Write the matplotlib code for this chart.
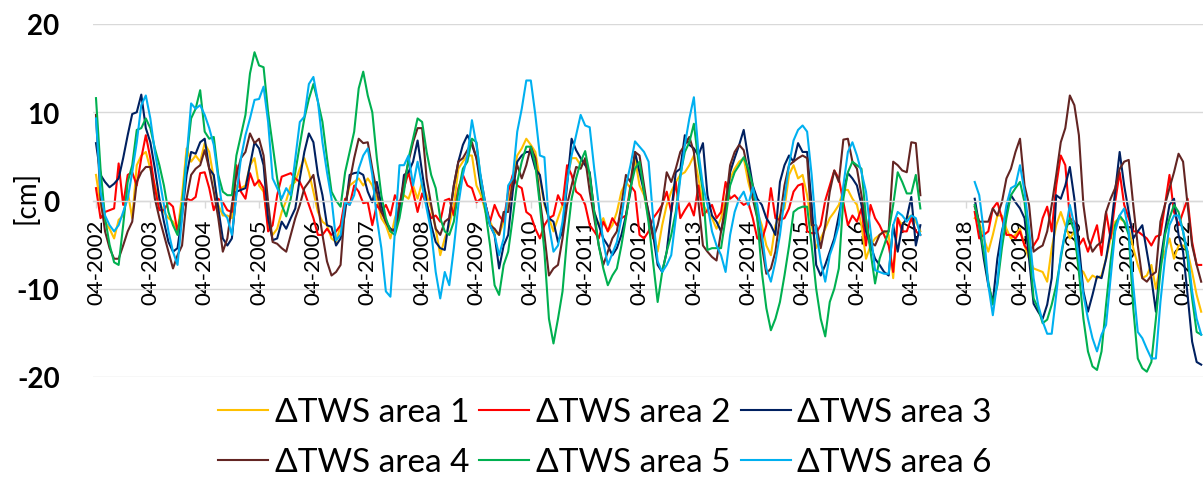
"""Monthly TWS anomalies for six areas, GRACE (04-2002..06-2017) and GRACE-FO (06-2018..)."""

import matplotlib

matplotlib.use("Agg")

import matplotlib.pyplot as plt
import numpy as np

plt.rcParams["font.family"] = ["Lato", "DejaVu Sans"]
plt.rcParams["axes.unicode_minus"] = False

# ---------------------------------------------------------------- data [cm]
# GRACE: 04-2002 .. 06-2017 (183 months), GRACE-FO: 06-2018 .. 10-2022 (51 months)
GAP_MONTHS = 11

area1_grace = [
    2.9, -0.5, -2.4, -3.2, -4.3, -2.2, -1.7, 1.0, -2.0, 4.0, 5.1, 5.5, 3.6, 1.7, -0.2, -1.3, -2.0, -2.4, -3.5, 0.6,
    5.9, 4.4, 5.1, 4.4, 6.5, 5.5, 2.5, -0.5, -1.7,
    -1.7, -2.0, 1.7, 1.4, 1.7, 4.0, 4.8, 1.7, 1.0, -2.8, -3.9, -3.2, -1.3, 0.0, 1.7, 2.1, 3.6, 4.8, 3.2, 1.0,
    -1.3, -2.4, -2.8, -4.3, -4.7, -2.8, -0.5, 1.7, 2.1, 2.5, 1.7,
    2.5, 1.7, 0.2, -2.0, -2.8, -4.3, -2.0, -0.5, 0.6, 0.2, 1.7, 0.2, 2.1, 0.6, -0.9, -3.2, -6.2, -4.3, -2.8, -0.5,
    3.6, 4.4, 5.1, 5.1, 1.7, 0.6, -1.3, -2.4, -3.5, -3.9, -2.4,
    -0.5, 2.5, 5.1, 5.9, 7.0, 6.3, 5.5, 2.5, -0.5, -2.0, -3.5, -2.0, -0.5, 2.5, 4.8, 4.8, 4.0, 4.4, 2.9, -1.3,
    -2.8, -2.0, -3.5, -2.8, -1.3, 1.0, 2.1, 1.4, 4.8, 1.7, 0.6,
    -2.0, -3.5, -5.8, -2.8, -0.5, 1.0, 2.1, 2.9, 3.2, 4.0, 5.1, 2.5, -0.5, -1.3, -2.0, -3.2, -2.0, 0.2, 2.5, 3.6,
    4.4, 4.8, 2.1, 0.2, -1.3, -2.8, -5.1, -6.2, -2.8, -1.7,
    -0.9, 2.9, 4.0, 2.5, 2.9, 0.6, -2.8, -5.4, -4.3, -3.2, -2.0, -1.3, -0.5, 1.2, 1.2, 0.2, -0.5, -2.8, -6.6, -5.1,
    -4.3, -3.9, -3.5, -3.9, -8.8, -2.0, -2.8, -2.0, -1.7, -2.4, -3.5,
]
area1_gfo = [
    -2.0, -2.4, -4.3, -5.8, -3.9, -1.7, -1.7, -3.2, -4.3, -3.9, -3.2, -5.1, -6.6, -7.7, -7.9, -8.1, -9.2, -5.4, -2.8,
    -1.3, -2.8, -4.3, -3.5, -7.7, -8.1, -9.2, -8.5, -8.8, -8.5, -6.6, -4.3, -2.4, -2.0, -2.4, -3.2, -5.4, -7.3, -8.8,
    -8.5, -7.3, -10.0, -7.3, -5.8, -4.3, -6.6, -5.1, -5.1, -5.8, -8.1, -10.7, -12.6,
]

area2_grace = [
    1.4, -2.0, -1.3, -1.1, -0.9, 4.2, -0.5, 2.9, 3.2, 1.7, 4.8, 7.4, 4.8, 1.4, -1.1, -1.1, -0.2, -0.7, -3.5, -0.9,
    0.2, 0.0, 0.4, 3.1, 3.2, 1.4, -1.1, 0.2, -0.2,
    -1.1, -1.3, 4.0, 1.0, 0.2, 3.1, 1.7, 2.3, 1.4, -3.5, -2.8, 0.6, 2.7, 2.9, 3.1, 2.5, 2.1, 1.0, -0.5, -2.0,
    -3.9, -3.9, -3.2, -3.9, -3.5, -2.8, 0.2, -0.5, 1.7, 1.0, -0.3,
    -0.2, -2.8, -0.5, -1.3, -0.5, -1.7, 0.6, -0.5, 1.4, 3.2, 1.0, -1.3, 0.8, -0.5, -2.0, -1.7, -2.4, 0.0, 0.2, -1.7,
    1.4, 2.9, 1.7, 1.4, -0.2, 0.2, -0.5, -2.4, -0.5, -1.7, -2.4,
    1.0, 2.9, 1.7, 1.4, -1.3, -1.7, -3.2, -4.3, -2.8, -2.0, -1.7, 0.6, -0.5, 4.0, 2.9, 1.0, 0.6, -0.5, -2.8, -3.5,
    -4.3, -2.4, -3.5, -2.0, -2.8, -2.0, -1.7, 1.7, 1.0, -3.9, -4.3,
    -3.5, -2.0, -1.3, -0.5, 1.0, -1.3, 2.1, -2.0, -1.1, -0.3, -1.7, 1.7, -1.7, -1.1, -0.5, -2.0, -1.3, 2.1, 0.2, 0.6,
    0.0, -0.5, -0.2, -2.0, -4.3, -4.5, -2.8, 1.4, -2.0, -2.2,
    -2.0, -0.9, 1.0, 1.7, 1.9, -3.5, -3.7, -3.7, -2.8, 0.0, 1.7, 3.4, 2.5, -0.2, -2.8, -1.7, -2.4, -0.9, -5.1, -0.5,
    -2.0, -2.8, -3.9, -5.1, -8.1, -2.0, -3.5, -3.5, -2.0, -3.5, -3.9,
]
area2_gfo = [
    -1.3, -4.3, -3.9, -3.5, -0.9, -0.2, -2.0, -3.9, -3.9, -4.3, -3.5, -5.1, -5.8, -5.1, -4.3, -2.0, -0.7, -3.5, 1.7,
    5.1, 4.0, -2.0, -2.4, -5.1, -4.3, -5.8, -4.3, -2.8, -6.2, -1.3, -4.3, -0.2, 3.2, -0.5, -2.0, -3.5, -3.5, -3.9,
    -4.3, -5.1, -4.1, -3.9, -0.5, 2.9, -1.3, -2.8, -1.3, 0.2, -4.7, -7.3, -7.3,
]

area3_grace = [
    6.5, 2.9, 2.1, 1.5, 1.9, 2.5, 4.8, 7.4, 9.8, 10.0, 12.0, 8.2, 6.6, 3.6, 0.2, -2.4, -4.7, -5.8, -5.4, -1.7,
    2.9, 5.5, 5.3, 6.6, 7.0, 3.6, 2.9, -0.9, -4.3,
    -5.1, -4.3, 1.0, 1.2, 1.4, 4.0, 6.6, 5.9, 4.0, -2.0, -4.5, -4.3, -2.4, -3.2, -2.0, -0.9, 2.5, 5.5, 7.6, 6.6,
    2.9, 0.6, -2.8, -3.0, -5.1, -4.3, -1.3, 2.9, 3.1, 3.2, 2.9,
    1.0, -0.2, 2.1, -0.5, -2.4, -3.2, -3.5, -1.3, 2.9, 3.2, 4.4, 6.8, 3.2, -0.2, -2.8, -4.7, -5.4, -5.6, -2.0, 1.7,
    4.4, 6.3, 7.4, 6.3, 4.8, 1.4, -0.5, -2.8, -3.9, -7.7, -5.1,
    -3.9, 1.0, 4.4, 5.1, 5.5, 5.5, 3.6, 2.9, -0.2, -2.0, -2.4, -4.7, -3.5, 1.7, 7.0, 5.7, 4.8, 4.0, 3.2, -1.3,
    -2.8, -4.3, -5.1, -6.2, -5.4, -3.9, -1.7, 1.0, 5.5, 3.2, 1.0,
    -1.3, -3.9, -7.3, -8.1, -5.8, -1.3, 3.2, 3.6, 7.4, 6.3, 5.9, 5.1, 6.5, 0.6, -1.7, -2.4, -3.5, -1.3, 3.2, 4.8,
    6.3, 8.0, 4.8, 1.7, 0.2, -0.5, -2.0, -2.8, -3.9, 2.1,
    4.0, 5.1, 4.4, 6.5, 5.5, 5.5, -0.5, -7.3, -8.5, -7.3, -5.8, -4.3, -1.7, 1.0, 3.1, 2.5, 1.7, -0.5, -3.5, -5.1,
    -6.6, -7.3, -8.1, -8.5, -2.8, -5.8, -2.8, -2.0, 0.4, -5.1, -2.8,
]
area3_gfo = [
    0.2, -2.8, -6.6, -9.6, -11.5, -6.6, -3.5, -1.3, 0.6, -0.2, -0.9, -2.0, -6.6, -11.7, -12.6, -13.4, -11.8, -8.8, 0.6,
    0.2, 1.7, 3.8, 0.2, -5.1, -10.3, -12.6, -10.7, -8.6, -8.8, -6.6, -3.5, 1.0, 5.5, 1.7, -1.3, -4.3, -3.5, -2.8,
    -5.8, -8.8, -12.6, -6.9, -3.5, -0.5, 0.2, -3.9, -5.8, -10.7, -16.0, -18.3, -18.6,
]

area4_grace = [
    9.7, 0.2, -3.5, -5.4, -6.6, -6.6, -5.1, -3.5, -2.4, 2.1, 3.2, 3.8, 3.8, 0.2, -2.0, -3.9, -5.8, -7.7, -6.2, -5.1,
    0.2, 2.9, 3.6, 4.0, 5.7, 3.6, 1.0, -2.0, -5.8,
    -4.3, -0.5, 2.9, 4.8, 5.5, 7.6, 6.5, 7.0, 5.1, -0.2, -4.7, -4.9, -5.4, -5.8, -3.9, -2.0, -0.5, 1.4, 2.1, 2.9,
    -0.5, -3.9, -6.9, -8.5, -8.1, -7.3, -0.5, 2.1, 4.8, 7.0, 6.5,
    6.6, 3.6, 1.0, -1.3, -2.4, -3.5, -3.2, -0.5, 2.1, 4.4, 6.6, 8.2, 8.2, 2.5, -0.5, -3.2, -3.9, -2.4, -2.0, 1.7,
    4.4, 4.8, 5.7, 6.6, 4.8, 2.5, -0.5, -2.8, -3.2, -3.9, -1.3,
    -1.3, 2.1, 4.0, 2.5, 4.0, 6.1, 4.8, 0.2, -3.9, -8.5, -7.7, -7.3, -4.3, -0.5, 1.7, 3.8, 3.6, 4.8, 1.0, -2.0,
    -5.1, -7.3, -5.8, -4.3, -3.5, -0.5, 2.9, 2.1, 5.5, 5.1, 1.7,
    -1.7, -4.3, -2.8, -0.5, 3.2, 2.1, 3.6, 5.5, 6.3, 7.2, 5.5, -0.2, -5.1, -5.8, -6.4, -6.8, -3.5, -0.5, 4.0, 5.5,
    6.3, 5.7, 3.2, 0.2, -2.0, -5.1, -8.3, -7.7, -5.8, -2.0,
    1.7, 4.0, 4.4, 4.8, 5.1, 4.8, -2.8, -2.8, -5.4, -2.8, 1.0, 3.4, 2.1, 6.9, 7.0, 4.4, 3.6, 0.6, -2.8, -4.7,
    -5.1, -3.9, -3.5, -3.5, 4.4, 4.0, 3.4, 3.2, 6.6, 6.5, 0.6,
]
area4_gfo = [
    -0.7, -2.4, -2.4, -2.4, -0.9, -1.7, -0.2, 2.5, 3.6, 5.5, 7.0, 1.7, -0.5, -5.8, -5.4, -5.1, -3.5, -0.5, 2.9,
    6.6, 8.2, 11.9, 10.8, 7.4, -0.5, -4.3, -5.8, -5.1, -4.7, -1.3, 0.2, 1.4, 3.6, 4.4, 4.6, -0.5, -5.1, -8.8,
    -9.2, -8.5, -8.1, -2.4, -0.5, 1.4, 3.2, 5.3, 4.4, -0.5, -5.1, -7.3, -9.2,
]

area5_grace = [
    11.6, 3.6, -2.0, -5.0, -7.0, -7.3, -2.8, 2.1, 4.0, 8.0, 8.2, 9.3, 8.2, 5.9, 4.0, 1.7, -1.3, -2.8, -3.9, -0.5,
    4.8, 9.3, 10.4, 12.5, 7.8, 7.0, 7.2, 2.9, 1.0,
    0.6, 0.6, 5.1, 7.4, 9.7, 14.4, 16.8, 15.3, 15.1, 10.0, 6.3, 2.5, -0.5, -1.8, 0.2, 3.2, 6.3, 9.3, 11.5, 13.2,
    11.2, 8.9, 4.8, 1.0, 0.0, -0.7, 3.2, 5.5, 7.8, 12.7, 14.6,
    11.9, 10.0, 4.8, 0.6, -2.0, -3.5, -3.9, -2.0, 1.0, 4.8, 7.0, 9.3, 8.9, 5.5, 2.9, 1.4, -2.0, -3.5, -3.9, -2.4,
    1.0, 3.6, 4.4, 7.0, 6.6, 2.1, -1.3, -5.1, -9.6, -10.7, -7.3,
    -5.8, -2.0, 2.1, 4.4, 6.1, 6.1, 4.0, -0.5, -5.8, -13.4, -16.2, -13.4, -10.3, -4.3, 0.2, 2.5, 4.4, 5.6, 2.9, -1.3,
    -5.1, -7.7, -9.6, -8.5, -7.7, -5.1, -2.0, 1.4, 3.6, 4.4, 1.0,
    -2.5, -7.0, -11.5, -8.1, -5.8, -3.9, -1.3, 2.9, 5.5, 6.6, 8.7, 4.4, 1.0, -5.6, -5.4, -5.4, -5.4, -2.0, 1.7, 3.2,
    4.0, 4.9, 3.6, 1.7, -2.0, -8.1, -12.2, -14.7, -13.4, -11.5,
    -8.5, -5.2, -1.3, -0.9, -0.7, -0.7, -5.1, -10.0, -13.4, -15.4, -11.5, -10.0, -7.7, 0.2, 3.2, 4.4, 4.0, 3.6, -2.0, -5.8,
    -9.4, -6.6, -5.1, -3.5, -0.5, 3.2, 2.1, 0.8, 0.8, 2.9, -0.9,
]
area5_gfo = [
    -0.5, -2.8, -5.8, -9.2, -11.8, -9.6, -5.4, -2.0, 0.6, 1.4, 2.1, -0.2, -5.1, -11.1, -12.2, -13.9, -13.5, -11.8, -9.6,
    -6.6, -3.5, -2.0, -3.5, -8.1, -13.4, -17.1, -18.8, -19.2, -17.1, -11.8, -6.9, -2.8, -1.7, -2.4, -3.9, -12.2, -17.9,
    -19.0, -19.4, -18.3, -13.4, -8.1, -3.9, -2.0, -0.5, -1.3, -3.5, -6.6, -11.1, -14.9, -15.2,
]

area6_grace = [
    9.3, 1.0, -1.7, -2.8, -3.5, -2.8, -1.3, 0.2, 3.2, 6.6, 10.8, 11.9, 9.3, 5.5, 2.5, -0.5, -3.5, -5.8, -7.3, -2.0,
    4.8, 11.0, 10.4, 10.8, 9.7, 8.2, 6.3, 2.5, -1.3,
    -2.0, -3.9, 0.6, 4.8, 7.4, 9.3, 11.4, 11.5, 12.9, 8.9, 2.5, 1.4, 0.2, 1.4, 0.6, 4.8, 8.9, 9.5, 13.2, 14.0,
    11.2, 6.6, 3.2, 0.2, -4.5, -3.9, -0.2, -0.5, 0.6, 3.6, 5.1,
    5.9, 2.9, -2.0, -5.4, -10.3, -10.9, -3.5, 4.0, 4.0, 5.1, 1.7, 4.4, 1.7, -0.9, -3.5, -8.1, -11.1, -8.1, -9.6, -5.4,
    -0.5, 2.9, 5.1, 9.1, 6.3, 2.5, -0.5, -2.8, -3.9, -6.2, -4.3,
    1.7, 2.5, 7.8, 10.4, 13.6, 13.6, 9.7, 5.1, 4.9, -2.8, -5.8, -5.1, -2.4, 2.1, 5.1, 7.4, 9.7, 8.5, 8.3, 3.6,
    -0.5, -4.7, -7.3, -6.0, -4.7, -2.0, 1.7, 4.0, 6.7, 6.1, 5.5,
    4.4, -2.0, -6.9, -8.1, -7.3, -6.2, -2.0, 2.5, 6.3, 9.3, 11.7, 5.5, 1.7, -0.5, -3.5, -5.1, -6.2, -8.1, -3.9, -1.3,
    0.2, 1.0, -0.5, 1.5, -0.5, -3.9, -7.7, -9.2, -6.9, -3.9,
    0.2, 4.0, 6.8, 8.0, 8.5, 7.8, 2.9, -3.5, -6.9, -9.2, -6.2, -4.7, -2.8, 1.7, 5.5, 6.6, 5.1, 3.2, 1.0, -3.5,
    -7.9, -8.1, -8.3, -8.3, -2.8, -1.3, -1.7, -2.4, -1.7, -2.0, -3.9,
]
area6_gfo = [
    2.1, 0.6, -3.5, -9.6, -13.0, -9.2, -3.9, -0.5, 1.4, 1.7, 4.0, 1.0, -3.2, -8.8, -11.8, -13.7, -15.1, -15.1, -10.7,
    -6.2, -3.5, -0.5, -2.8, -6.6, -10.7, -13.4, -15.6, -17.1, -15.2, -14.1, -8.8, -3.5, -1.7, -0.9, -3.5, -9.6, -14.9,
    -15.6, -16.8, -17.9, -17.9, -11.5, -6.6, -2.8, -1.7, -1.7, -3.5, -5.8, -10.3, -13.4, -15.2,
]

labels = [f"\u0394TWS area {i}" for i in range(1, 7)]
colors = ["#FFC000", "#FF0000", "#002060", "#632523", "#00B050", "#00B0F0"]
year_ticks = list(range(2002, 2023))

series = [
    (area1_grace, area1_gfo),
    (area2_grace, area2_gfo),
    (area3_grace, area3_gfo),
    (area4_grace, area4_gfo),
    (area5_grace, area5_gfo),
    (area6_grace, area6_gfo),
]

# ---------------------------------------------------------------- figure
W, H = 1203, 481
fig = plt.figure(figsize=(W / 100, H / 100), dpi=100)
ax = fig.add_axes([93 / W, 1 - 378 / H, 1110 / W, 353 / H])

handles = []
for (grace, gfo), color, label in zip(series, colors, labels):
    assert len(grace) == 183 and len(gfo) == 51, (label, len(grace), len(gfo))
    values = np.array(grace + [np.nan] * GAP_MONTHS + gfo)
    months = np.arange(len(values))
    (line,) = ax.plot(months, values, color=color, linewidth=1.5, label=label)
    handles.append(line)

ax.set_ylim(-20, 20)
ax.set_yticks([-20, -10, 0, 10, 20])
ax.set_xlim(-0.66, 244.4)
ax.set_xticks([12 * k for k in range(len(year_ticks))])
ax.set_xticklabels([f"04-{y}" for y in year_ticks])

grid_color = "#D9D9D9"
ax.yaxis.grid(True, color=grid_color, linewidth=1.0)
ax.set_axisbelow(True)
for side in ("left", "right", "top"):
    ax.spines[side].set_visible(False)
ax.spines["bottom"].set_position(("data", 0))
ax.spines["bottom"].set_color(grid_color)
ax.spines["bottom"].set_linewidth(1.0)
ax.tick_params(axis="x", direction="out", length=5, width=1.0, color=grid_color, pad=8,
               labelcolor="black", labelrotation=90, labelsize=16)
ax.tick_params(axis="y", length=0, pad=24, labelsize=20)
for lbl in ax.get_yticklabels():
    lbl.set_fontweight("bold")

fig.text(26 / W, 1 - 197 / H, "[cm]", rotation=90, ha="center", va="center", fontsize=20)

# Excel-style legend: row-wise order (1 2 3 / 4 5 6)
order = [0, 3, 1, 4, 2, 5]
fig.legend(
    [handles[i] for i in order],
    [labels[i] for i in order],
    loc="center",
    bbox_to_anchor=(605 / W, 1 - 438.5 / H),
    ncol=3,
    frameon=False,
    fontsize=24,
    handlelength=1.5,
    handletextpad=0.2,
    columnspacing=0.3,
    labelspacing=0.6,
    borderpad=0,
    borderaxespad=0,
)

fig.savefig("out.png", dpi=100)
plt.close(fig)
